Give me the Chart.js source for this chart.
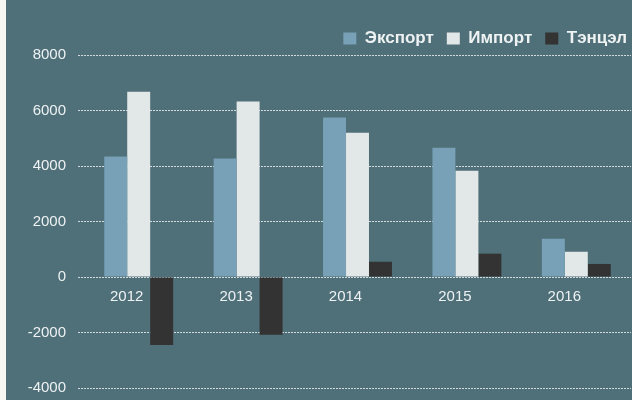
<!DOCTYPE html>
<html>
<head>
<meta charset="utf-8">
<script src="https://cdn.jsdelivr.net/npm/chart.js@4.4.1/dist/chart.umd.min.js"></script>
<style>
  html, body { margin: 0; padding: 0; background: #f6f7f2; overflow: hidden; }
  #wrap { position: absolute; left: 6px; top: 0; width: 626px; height: 400px; background: #4f6f79; overflow: hidden; }
</style>
</head>
<body>
<div id="wrap"><canvas id="myChart" width="626" height="409"></canvas></div>
<script>
// years on the x axis
var years = ["2012", "2013", "2014", "2015", "2016"];
// values
var exportVals = [4340, 4270, 5750, 4660, 1380];
var importVals = [6680, 6320, 5200, 3830, 910];
var balanceVals = [-2450, -2080, 550, 840, 470];
var seriesNames = ["Экспорт", "Импорт", "Тэнцэл"];
var barColors = ["#78a0b6", "#e2e7e7", "#333333"];

var tickFont = { family: "'Liberation Sans', sans-serif", size: 15 };
var gridColor = "rgba(255, 255, 255, 0.75)";

// pull the plot area a bit closer to the legend, and push the legend to the right edge
var legendTrim = {
    id: "legendTrim",
    beforeInit: function (chart) {
        var fit = chart.legend.fit;
        chart.legend.fit = function () {
            fit.bind(chart.legend)();
            this.height -= 2;
        };
    },
    afterLayout: function (chart) {
        chart.legend.left += 9;
        chart.legend.right += 9;
    }
};

new Chart("myChart", {
    type: "bar",
    data: {
        labels: years,
        datasets: [
            { label: seriesNames[0], data: exportVals, backgroundColor: barColors[0] },
            { label: seriesNames[1], data: importVals, backgroundColor: barColors[1] },
            { label: seriesNames[2], data: balanceVals, backgroundColor: barColors[2] }
        ]
    },
    options: {
        responsive: false,
        animation: false,
        layout: { padding: { top: 17, right: 1, bottom: 0, left: 0 } },
        datasets: {
            bar: { categoryPercentage: 0.63, barPercentage: 1 }
        },
        plugins: {
            legend: {
                position: "top",
                align: "end",
                labels: {
                    color: "#eef2f3",
                    boxWidth: 13,
                    boxHeight: 12,
                    padding: 13,
                    font: { family: "'Liberation Sans', sans-serif", size: 17, weight: "bold" }
                }
            },
            tooltip: { enabled: false }
        },
        scales: {
            x: {
                position: { y: 0 },
                grid: { display: false, drawTicks: false },
                border: { display: false },
                ticks: { color: "#eef2f3", font: tickFont, padding: 11, labelOffset: -12 }
            },
            y: {
                min: -4000,
                max: 8000,
                afterFit: function (scale) { scale.width = 78; },
                border: { display: false, dash: [2, 1] },
                grid: {
                    color: gridColor,
                    lineWidth: 1,
                    tickLength: 6,
                    tickColor: gridColor,
                    tickBorderDash: [2, 1]
                },
                ticks: {
                    stepSize: 2000,
                    color: "#eef2f3",
                    font: tickFont,
                    padding: 12,
                    callback: function (v) { return String(v); }
                }
            }
        }
    },
    plugins: [legendTrim]
});
</script>
</body>
</html>
